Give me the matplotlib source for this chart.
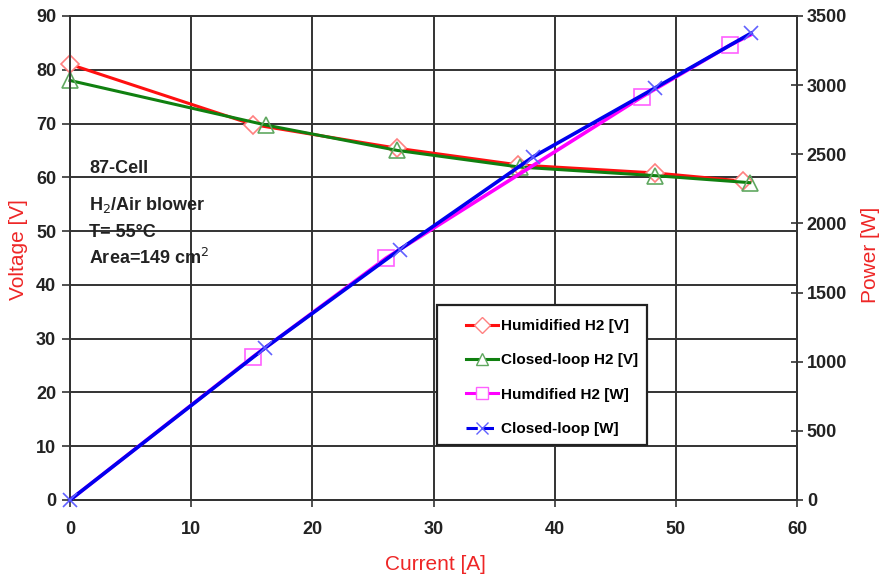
import matplotlib.pyplot as plt
from matplotlib.lines import Line2D
from matplotlib.patches import Rectangle

plt.rcParams['font.family'] = ['Liberation Sans', 'DejaVu Sans']

# voltage curves (current [A], voltage [V])
hum_v_i = [0, 15.1, 27.0, 37.0, 48.3, 55.5]
hum_v = [81.0, 69.8, 65.4, 62.3, 60.8, 59.3]
cl_v_i = [0, 16.2, 27.0, 37.1, 48.3, 56.1]
cl_v = [78.0, 69.7, 65.0, 61.9, 60.3, 59.0]

# power curves (current [A], power [W])
hum_p_i = [0, 15.1, 26.1, 47.2, 54.5, 56.2]
hum_p = [0, 1035, 1750, 2915, 3290, 3365]
cl_p_i = [0, 16.1, 27.2, 38.2, 48.3, 56.2]
cl_p = [0, 1100, 1810, 2480, 2980, 3375]

x_ticks = [0, 10, 20, 30, 40, 50, 60]
v_ticks = [0, 10, 20, 30, 40, 50, 60, 70, 80, 90]
p_ticks = [0, 500, 1000, 1500, 2000, 2500, 3000, 3500]

info_lines = ['87-Cell', 'H$_2$/Air blower', 'T= 55°C', 'Area=149 cm$^2$']
info_y = [61.6, 54.8, 49.8, 45.0]

label_red = '#ee2626'

fig = plt.figure(figsize=(8.81, 5.8), dpi=100)
ax = fig.add_axes([0.0795, 0.138, 0.8252, 0.8345])
ax2 = ax.twinx()

ax.set_xlim(0, 60)
ax.set_ylim(0, 90)
ax2.set_ylim(0, 3500)
ax.set_xticks(x_ticks)
ax.set_yticks(v_ticks)
ax2.set_yticks(p_ticks)

ax.grid(True, color='#333333', linewidth=1.4)
ax.set_axisbelow(True)
for a in (ax, ax2):
    for s in a.spines.values():
        s.set_color('#333333')
        s.set_linewidth(1.4)
ax.tick_params(axis='y', direction='out', length=6, width=1.2, color='#333333',
               labelsize=13, pad=4)
ax.tick_params(axis='x', direction='out', length=5, width=1.2, color='#333333',
               labelsize=13, pad=10)
ax2.tick_params(direction='inout', length=8, width=1.2, color='#333333', labelsize=13, pad=3)
for lab in ax.get_xticklabels() + ax.get_yticklabels() + ax2.get_yticklabels():
    lab.set_fontweight('bold')
    lab.set_color('#222222')

ax.plot(hum_v_i, hum_v, color='#ff1010', lw=2.2, marker='D', ms=9, mfc='white',
        mec='#ff8080', mew=1.2, zorder=3, clip_on=False)
ax.plot(cl_v_i, cl_v, color='#108010', lw=2.2, marker='^', ms=11, mfc='none',
        mec='#60a860', mew=1.2, zorder=3, clip_on=False)
ax2.plot(hum_p_i, hum_p, color='#ff00ff', lw=2.6, marker='s', ms=11,
         mfc='none', mec='#ff60ff', mew=1.2, zorder=3, markevery=[1, 2, 3, 4])
ax2.plot(cl_p_i, cl_p, color='#0000ee', lw=2.6, marker='x', ms=10,
         mec='#6060ff', mew=1.2, zorder=4, clip_on=False)

ax.set_xlabel('Current [A]', color=label_red, fontsize=15)
ax.xaxis.set_label_coords(0.502, -0.113)
ax.set_ylabel('Voltage [V]', color=label_red, fontsize=15)
ax.yaxis.set_label_coords(-0.058, 0.518)
ax2.set_ylabel('Power [W]', color=label_red, fontsize=15)
ax2.yaxis.set_label_coords(1.088, 0.506)

for txt, yv in zip(info_lines, info_y):
    ax.text(1.6, yv, txt, fontsize=13, fontweight='bold', color='#222222', va='center')

# legend box
ax2.add_patch(Rectangle((0.5048, 0.1136), 0.2889, 0.2893, transform=ax2.transAxes,
                        facecolor='white', edgecolor='#222222', lw=1.6, zorder=9))

handles = [
    Line2D([], [], color='#ff1010', lw=2.2, marker='D', ms=8, mfc='white', mec='#ff8080'),
    Line2D([], [], color='#108010', lw=2.2, marker='^', ms=9, mfc='white', mec='#60a860'),
    Line2D([], [], color='#ff00ff', lw=2.2, marker='s', ms=9, mfc='white', mec='#ff60ff'),
    Line2D([], [], color='#0000ee', lw=2.2, ls='--', marker='x', ms=8, mec='#6060ff'),
]
labels = ['Humidified H2 [V]', 'Closed-loop H2 [V]', 'Humdified H2 [W]', 'Closed-loop [W]']
leg = ax2.legend(handles, labels, loc='upper left', bbox_to_anchor=(0.545, 0.374),
                 frameon=False, handlelength=2.1, handletextpad=0.15, labelspacing=1.33,
                 borderpad=0, borderaxespad=0, prop={'weight': 'bold', 'size': 11})
leg.set_zorder(10)

fig.savefig('out.png', dpi=100)
